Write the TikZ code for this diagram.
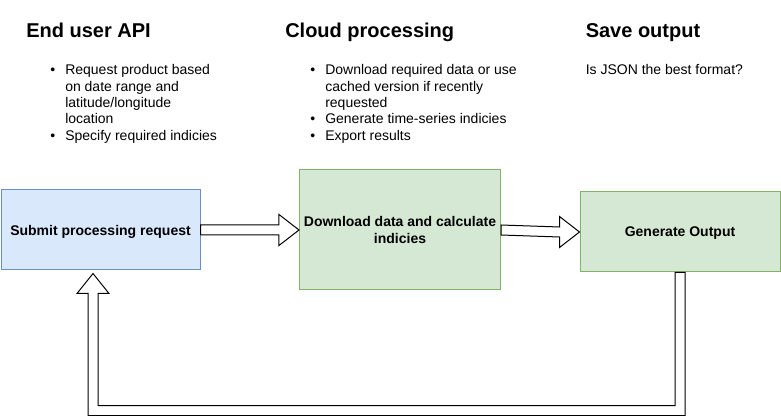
\documentclass[tikz,border=0pt]{standalone}
\usepackage{fontspec}
\setmainfont{Liberation Sans}
\usetikzlibrary{calc}
\definecolor{blueFill}{HTML}{DAE8FC}
\definecolor{blueLine}{HTML}{6C8EBF}
\definecolor{greenFill}{HTML}{D5E8D4}
\definecolor{greenLine}{HTML}{82B366}

\begin{document}
\begin{tikzpicture}[x=0.75pt,y=-0.75pt,
  box/.style={draw, line width=0.75pt, minimum width=150pt, align=center, text depth=0pt,
    font=\fontsize{10.5pt}{12.8pt}\selectfont\bfseries},
  bluebox/.style={box, fill=blueFill, draw=blueLine},
  greenbox/.style={box, fill=greenFill, draw=greenLine},
  head/.style={anchor=base west, inner sep=0pt, font=\fontsize{15pt}{18pt}\selectfont\bfseries},
  list/.style={anchor=base west, inner sep=0pt, font=\fontsize{10.5pt}{12.2pt}\selectfont},
  flow/.style={draw, line width=0.75pt, fill=white, line join=miter}]
\useasboundingbox (0,0) rectangle (781,416);

\node (H1) at (26,37.5) [head] {End user API};
\node (H2) at (285,37.5) [head] {Cloud processing};
\node (H3) at (585.5,37.5) [head] {Save output};

\node (L1) at (50,75) [list] {\begin{tabular}[t]{@{}p{11.25pt}@{}l@{}}
\textbullet & Request product based\\
 & on date range and\\
 & latitude/longitude\\
 & location\\
\textbullet & Specify required indicies
\end{tabular}};
\node (L2) at (310,75) [list] {\begin{tabular}[t]{@{}p{11.25pt}@{}l@{}}
\textbullet & Download required data or use\\
 & cached version if recently\\
 & requested\\
\textbullet & Generate time-series indicies\\
\textbullet & Export results
\end{tabular}};
\node (L3) at (585.5,75) [list] {Is JSON the best format?};

\node (B1) at (100.5,230) [bluebox, minimum width=149.25pt, minimum height=60pt] {Submit processing request};
\node (B2) at (400,230) [greenbox, minimum height=90pt] {Download data and calculate\\indicies};
\node (B3) at (680,232) [greenbox, minimum height=60pt] {Generate Output};
\coordinate (T) at ($(B1.south)+(-7.5,3)$);

\draw [flow] ($(B1.east)+(0,-5)$) -- ($(B2.west)+(-20,-5)$) -- ($(B2.west)+(-20,-15.5)$)
  -- (B2.west) -- ($(B2.west)+(-20,15.5)$) -- ($(B2.west)+(-20,5)$) -- ($(B1.east)+(0,5)$) -- cycle;
\draw [flow] ($(B2.east)+(0,-5)$) -- ($(B3.west)+(-20,-5)$) -- ($(B3.west)+(-20,-15.5)$)
  -- (B3.west) -- ($(B3.west)+(-20,15.5)$) -- ($(B3.west)+(-20,5)$) -- ($(B2.east)+(0,5)$) -- cycle;
\draw [flow] ($(B3.south)+(-5,0)$) |- ($(T)+(5,132)$) -- ($(T)+(5,20)$) -- ($(T)+(16,20)$)
  -- (T) -- ($(T)+(-16,20)$) -- ($(T)+(-5,20)$) |- ($(B3.south)+(5,143)$) -- ($(B3.south)+(5,0)$) -- cycle;
\end{tikzpicture}
\end{document}
